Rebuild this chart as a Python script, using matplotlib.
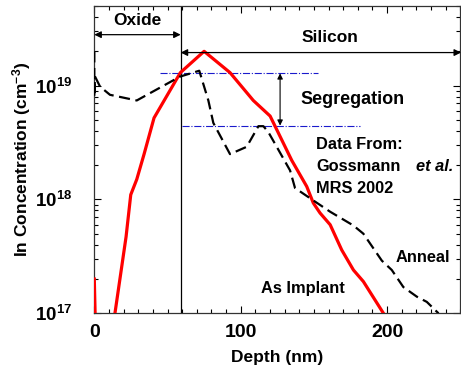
import matplotlib
matplotlib.use("Agg")
import matplotlib.pyplot as plt
from matplotlib.ticker import MultipleLocator, LogLocator, NullFormatter

plt.rcParams['font.family'] = ['Liberation Sans', 'DejaVu Sans']
plt.rcParams['font.weight'] = 'bold'
plt.rcParams['mathtext.fontset'] = 'custom'
plt.rcParams['mathtext.rm'] = 'Liberation Sans:bold'
plt.rcParams['mathtext.bf'] = 'Liberation Sans:bold'
plt.rcParams['mathtext.it'] = 'Liberation Sans:bold:italic'

# As implanted profile (depth nm, In cm^-3)
implant_depth = [0, 1.5, 14.1, 21.7, 24.9, 29.0, 34.0, 40.8, 58.8, 75.0, 92.7,
                 108.6, 120.1, 134.9, 145.1, 149.6, 154.2, 161.1, 169.0, 177.0,
                 183.8, 197.5]
implant_conc = [2.0e17, 3.0e16, 1.0e17, 4.7e17, 1.1e18, 1.5e18, 2.5e18, 5.2e18,
                1.3e19, 2.0e19, 1.3e19, 7.4e18, 5.4e18, 2.2e18, 1.3e18, 9.3e17,
                7.6e17, 6.0e17, 3.6e17, 2.4e17, 1.9e17, 1.0e17]

# Annealed profile
anneal_depth = [0, 0, 0.5, 3.9, 10.7, 29.0, 58.6, 71.7, 77.9, 81.3, 92.7, 104.1,
                112.1, 115.5, 118.9, 124.6, 133.7, 137.1, 149.6, 161.1, 177.0,
                183.8, 196.4, 203.2, 211.1, 220.3, 227.1, 235.1]
anneal_conc = [2.0e19, 7.9e18, 1.2e19, 9.8e18, 8.3e18, 7.4e18, 1.2e19, 1.35e19,
               7.4e18, 4.7e18, 2.5e18, 2.9e18, 4.4e18, 4.4e18, 3.9e18, 2.9e18,
               1.8e18, 1.26e18, 9.8e17, 7.8e17, 5.9e17, 5.0e17, 2.9e17, 2.4e17,
               1.7e17, 1.4e17, 1.26e17, 1.0e17]

interface = 59.0
seg_high = 1.28e19
seg_low = 4.45e18

fig = plt.figure(figsize=(4.61, 3.71), dpi=100)
ax = fig.add_axes([94.3 / 461, (371 - 313.3) / 371, 366 / 461, 307.3 / 371])

ax.plot(implant_depth, implant_conc, color='red', lw=2.3, zorder=3)
ax.plot(anneal_depth, anneal_conc, color='black', lw=1.6, ls=(0, (5, 2.5)), zorder=3)

ax.set_yscale('log')
ax.set_xlim(0, 250)
ax.set_ylim(1e17, 5e19)

# oxide / silicon boundary
ax.axvline(interface, color='black', lw=0.9)

# segregation levels
ax.plot([44.9, 152.9], [seg_high, seg_high], color='#1a1acc', lw=0.8, ls='-.')
ax.plot([59.7, 181.6], [seg_low, seg_low], color='#1a1acc', lw=0.8, ls='-.')
ax.annotate('', xy=(126.9, seg_low), xytext=(126.9, seg_high),
            arrowprops=dict(arrowstyle='<|-|>', color='black', lw=0.8,
                            mutation_scale=8, shrinkA=0, shrinkB=0))

# region arrows
ax.annotate('', xy=(0, 2.8e19), xytext=(interface, 2.8e19),
            arrowprops=dict(arrowstyle='<|-|>', color='black', lw=0.9,
                            mutation_scale=10, shrinkA=0, shrinkB=0))
ax.annotate('', xy=(interface, 1.95e19), xytext=(250.5, 1.95e19),
            arrowprops=dict(arrowstyle='<|-|>', color='black', lw=0.9,
                            mutation_scale=10, shrinkA=0, shrinkB=0),
            annotation_clip=False)

ax.text(29.2, 3.7e19, 'Oxide', ha='center', va='center', fontsize=12.5, fontweight='bold')
ax.text(161, 2.65e19, 'Silicon', ha='center', va='center', fontsize=12.5, fontweight='bold')
ax.text(140.6, 7.6e18, 'Segregation', ha='left', va='center', fontsize=13, fontweight='bold')
ax.text(151.5, 3.05e18, 'Data From:', ha='left', va='center', fontsize=11.8, fontweight='bold')
ax.text(151.5, 1.95e18, 'Gossmann', ha='left', va='center', fontsize=11.8, fontweight='bold')
ax.text(219.5, 1.95e18, 'et al.', ha='left', va='center', fontsize=11.8, fontweight='bold',
        fontstyle='italic')
ax.text(151.5, 1.24e18, 'MRS 2002', ha='left', va='center', fontsize=11.8, fontweight='bold')
ax.text(206, 3.1e17, 'Anneal', ha='left', va='center', fontsize=11.8, fontweight='bold')
ax.text(114, 1.66e17, 'As Implant', ha='left', va='center', fontsize=11.8, fontweight='bold')

ax.xaxis.set_major_locator(MultipleLocator(100))
ax.xaxis.set_minor_locator(MultipleLocator(10))
ax.yaxis.set_minor_locator(LogLocator(base=10, subs=range(2, 10), numticks=10))
ax.yaxis.set_minor_formatter(NullFormatter())
ax.set_yticks([1e17, 1e18, 1e19])
ax.set_yticklabels([r'$\mathbf{10^{17}}$', r'$\mathbf{10^{18}}$', r'$\mathbf{10^{19}}$'])
ax.tick_params(which='both', direction='in', top=True, right=True)
ax.tick_params(which='major', length=5, width=0.8)
ax.tick_params(which='minor', length=3, width=0.8)
ax.tick_params(axis='y', which='major', labelsize=13.5, pad=16)
ax.tick_params(axis='x', which='major', labelsize=14, pad=8)
for lbl in ax.get_xticklabels():
    lbl.set_fontweight('bold')
for s in ax.spines.values():
    s.set_linewidth(0.9)
    s.set_color('#333333')

ax.set_xlabel('Depth (nm)', fontsize=12.5, fontweight='bold', labelpad=6)
ax.set_ylabel(r'In Concentration (cm$^{\mathbf{-3}}$)', fontsize=12.5, fontweight='bold', labelpad=1)

fig.savefig('out.png', dpi=100)
